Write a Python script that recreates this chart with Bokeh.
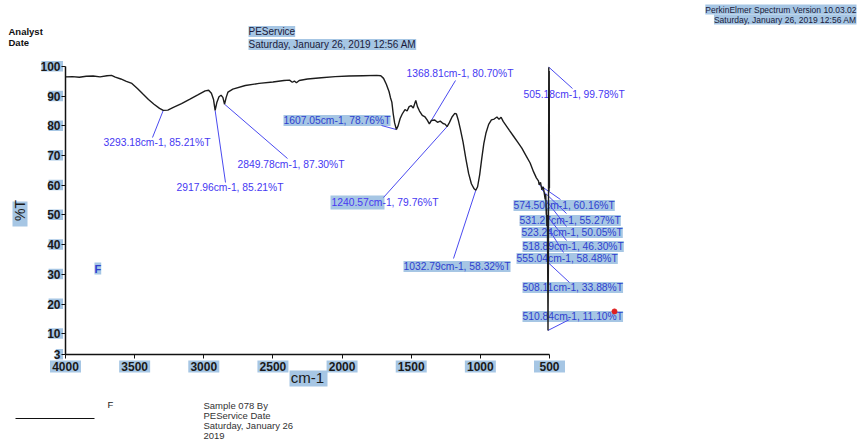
from bokeh.plotting import figure
from bokeh.models import Range1d, FixedTicker, Label
from bokeh.embed import file_html
from bokeh.resources import INLINE

# ---------------- data ----------------
wavenumber = [4000, 3950, 3900, 3850, 3800, 3750, 3700, 3667, 3640, 3600, 3560, 3520,
              3480, 3440, 3400, 3360, 3320, 3293.18, 3260, 3220, 3161, 3100, 3040, 2990,
              2965, 2945, 2930, 2917.96, 2905, 2890, 2875, 2862, 2849.78, 2838, 2825, 2790,
              2700, 2600, 2500, 2420, 2380, 2360, 2345, 2330, 2310, 2250, 2150, 2050,
              1950, 1850, 1750, 1720, 1700, 1680, 1660, 1650, 1640, 1630, 1620, 1607.05,
              1595, 1580, 1565, 1545, 1530, 1515, 1500, 1485, 1467, 1455, 1440, 1420,
              1400, 1385, 1368.81, 1355, 1330, 1310, 1290, 1270, 1255, 1240.57, 1225, 1205,
              1185, 1173, 1160, 1145, 1125, 1105, 1085, 1065, 1045, 1032.79, 1020, 1005,
              990, 975, 960, 940, 920, 900, 880, 865, 850, 835, 815, 790,
              760, 730, 700, 670, 640, 615, 595, 580, 574.50, 565, 555.04, 545,
              531.27, 527, 523.24, 521, 518.89, 515, 510.84, 508.11, 505.18, 503.5, 502, 500.5]
transmittance = [96.5, 96.6, 96.4, 96.7, 96.8, 96.5, 96.9, 97.0, 96.4, 95.8, 95.0, 94.3,
                 92.6, 90.7, 88.9, 87.3, 85.9, 85.21, 85.3, 86.2, 87.5, 89.0, 90.5, 91.8,
                 92.0, 91.0, 89.0, 85.21, 88.0, 89.8, 90.3, 89.6, 87.30, 89.6, 91.4, 92.4,
                 93.6, 94.3, 94.8, 95.3, 95.4, 94.7, 95.1, 94.5, 95.3, 95.8, 96.2, 96.6,
                 96.8, 96.9, 97.0, 96.9, 96.0, 94.0, 91.5, 89.5, 88.0, 84.0, 81.0, 78.76,
                 80.0, 82.5, 84.0, 85.5, 85.0, 86.5, 86.8, 86.0, 88.6, 86.5, 85.0, 83.5,
                 83.0, 82.0, 80.70, 81.8, 82.0, 81.2, 81.6, 80.8, 80.6, 79.76, 81.0, 83.0,
                 84.2, 84.0, 82.0, 79.0, 74.5, 69.0, 64.0, 60.5, 58.8, 58.32, 59.5, 63.5,
                 69.0, 74.0, 77.5, 80.5, 82.0, 82.3, 83.0, 82.2, 82.9, 81.5, 80.2, 78.5,
                 76.5, 74.5, 72.5, 70.0, 67.5, 64.5, 62.5, 61.5, 60.16, 61.0, 58.48, 59.5,
                 55.27, 57.0, 50.05, 52.0, 46.30, 50.0, 11.10, 33.88, 99.78, 58.0, 98.5, 59.0]

peak_wn = [3293.18, 2917.96, 2849.78, 1607.05, 1368.81, 1240.57, 1032.79,
           574.50, 555.04, 531.27, 523.24, 518.89, 510.84, 508.11, 505.18]
peak_T = [85.21, 85.21, 87.30, 78.76, 80.70, 79.76, 58.32,
          60.16, 58.48, 55.27, 50.05, 46.30, 11.10, 33.88, 99.78]

x_ticks = [4000, 3500, 3000, 2500, 2000, 1500, 1000, 500]
y_ticks = [3, 10, 20, 30, 40, 50, 60, 70, 80, 90, 100]

marker_wn = [30]
marker_T = [17.5]

# ---------------- layout helpers (page pixels -> data) ----------------
SX = 484 / 3500.0          # px per cm-1
SY = 288 / 97.0            # px per %T
def X(px):
    return 4000 - (px - 65) / SX
def Y(py):
    return 100 - (py - 66) / SY

W, H = 858, 441

FONT = "Liberation Sans"
BG = "#a6c6e4"
BLUE_PLAIN = "#4638f2"
BLUE_BG = "#2f3fcf"
LEAD = "#4a4af0"

p = figure(width=W, height=H, output_backend="svg", toolbar_location=None,
           x_range=Range1d(X(0), X(W)), y_range=Range1d(Y(H), Y(0)),
           min_border_left=0, min_border_right=0, min_border_top=0, min_border_bottom=0)
p.outline_line_color = None
p.grid.visible = False
p.background_fill_color = "white"
p.border_fill_color = "white"

p.xaxis.ticker = FixedTicker(ticks=x_ticks)
p.yaxis.ticker = FixedTicker(ticks=y_ticks)
p.xaxis.bounds = (500, 4000)
p.yaxis.bounds = (3, 100)
p.xaxis.fixed_location = 3
p.yaxis.fixed_location = 4000
for ax in (p.xaxis[0], p.yaxis[0]):
    ax.axis_line_color = "#111111"
    ax.axis_line_width = 1.5
    ax.major_tick_line_color = "#111111"
    ax.major_tick_out = 4
    ax.major_tick_in = 0
    ax.minor_tick_line_color = None
    ax.major_label_text_font = FONT
    ax.major_label_text_font_size = "12px"
    ax.major_label_text_font_style = "bold"
    ax.major_label_text_color = "#1a1a1a"
    ax.axis_label_text_font = FONT
    ax.axis_label_text_font_style = "normal"
    ax.axis_label_text_color = "#1a1a1a"

p.xaxis.major_label_standoff = 3
p.yaxis.major_label_standoff = 1
p.xaxis.axis_label = "cm-1"
p.xaxis.axis_label_text_font_size = "15px"
p.xaxis.axis_label_standoff = -5
p.yaxis.axis_label = "%T"
p.yaxis.axis_label_text_font_size = "14px"
p.yaxis.axis_label_standoff = 9

# highlight boxes behind tick labels and axis titles (as in the scanned printout)
y_chars = [len(str(t)) for t in y_ticks]
p.quad(left=[X(62.5 - 7.2 * n) for n in y_chars], right=[X(62.5)] * len(y_ticks),
       top=[t + 5.5 / SY for t in y_ticks], bottom=[t - 5.0 / SY for t in y_ticks],
       fill_color=BG, line_color=None, level="underlay")
p.quad(left=[t + 15.5 / SX for t in x_ticks], right=[t - 15.5 / SX for t in x_ticks],
       top=[Y(360)] * len(x_ticks), bottom=[Y(372)] * len(x_ticks),
       fill_color=BG, line_color=None, level="underlay")
p.quad(left=[X(289), X(12)], right=[X(327), X(27)], top=[Y(370), Y(201)],
       bottom=[Y(386), Y(226)], fill_color=BG, line_color=None, level="underlay")

lab_props = Label.properties()

def add_label(x, y, text, size, color, bg=None, style="normal", align="left", level="annotation"):
    kw = dict(x=x, y=y, text=text, text_font=FONT, text_font_size=size, text_color=color,
              text_align=align, text_baseline="middle", text_font_style=style, level=level)
    if bg:
        kw["background_fill_color"] = bg
        if "padding" in lab_props:
            kw["padding"] = 0
    p.add_layout(Label(**kw))

# ---------------- peak annotations ----------------
# (text left px, text centre y px, leader end x px, leader end y px, background)
ann_layout = [
    (103, 142, 152, 137, False),
    (176, 187, 225, 182, False),
    (237, 164, 287, 158, False),
    (283, 120, 381, 125, True),
    (406, 73, 455, 80, False),
    (331, 202, 383, 197, "partial"),
    (403, 266, 453, 258, True),
    (513, 205, 560, 199, True),
    (516, 258, 566, 213, True),
    (519, 220, 566, 226, True),
    (521, 232, 566, 240, True),
    (522, 246, 563, 252, True),
    (522, 316, 569, 319, True),
    (522, 287, 569, 282, True),
    (523, 94, 572, 88, False),
]

# partial highlight behind the first part of the 1240.57 label
p.quad(left=[X(330)], right=[X(384)], top=[Y(195)], bottom=[Y(209)],
       fill_color=BG, line_color=None, level="underlay")

for w, t, lay in zip(peak_wn, peak_T, ann_layout):
    text = "%.2fcm-1, %.2f%%T" % (w, t)
    bg = lay[4]
    if bg is True:
        add_label(X(lay[0]), Y(lay[1]), text, "10.3px", BLUE_BG, bg=BG, level="underlay")
    else:
        add_label(X(lay[0]), Y(lay[1]), text, "10.3px", BLUE_PLAIN, level="underlay")

# leader lines from each peak to its label
p.segment(x0=peak_wn, y0=peak_T,
          x1=[X(l[2]) for l in ann_layout], y1=[Y(l[3]) for l in ann_layout],
          line_color=LEAD, line_width=1)

# spectrum
p.line(wavenumber, transmittance, line_color="#1c1c1c", line_width=1.4)

# red marker
p.scatter(marker_wn, marker_T, size=5, color="#e02020")

add_label(X(94), Y(268), "F", "11px", BLUE_BG, bg=BG, style="bold")

# ---------------- header / footer ----------------
add_label(X(8), Y(31), "Analyst", "9.5px", "#111111", style="bold")
add_label(X(8), Y(42), "Date", "9.5px", "#111111", style="bold")
add_label(X(248), Y(31), "PEService", "10px", "#1a1a3a", bg=BG)
add_label(X(248), Y(44), "Saturday, January 26, 2019 12:56 AM", "10px", "#1a1a3a", bg=BG)
add_label(X(856), Y(9), "PerkinElmer Spectrum Version 10.03.02", "8.5px", "#1a1a3a", bg=BG, align="right")
add_label(X(856), Y(19), "Saturday, January 26, 2019 12:56 AM", "8.5px", "#1a1a3a", bg=BG, align="right")

add_label(X(107), Y(404), "F", "9.5px", "#222222")
for i, line in enumerate(["Sample 078 By", "PEService Date", "Saturday, January 26", "2019"]):
    add_label(X(203), Y(405 + 10 * i), line, "9.5px", "#333333")
p.segment(x0=[X(15)], y0=[Y(418)], x1=[X(94)], y1=[Y(418)], line_color="#111111", line_width=1)

open("out.html", "w").write(file_html(p, INLINE))
